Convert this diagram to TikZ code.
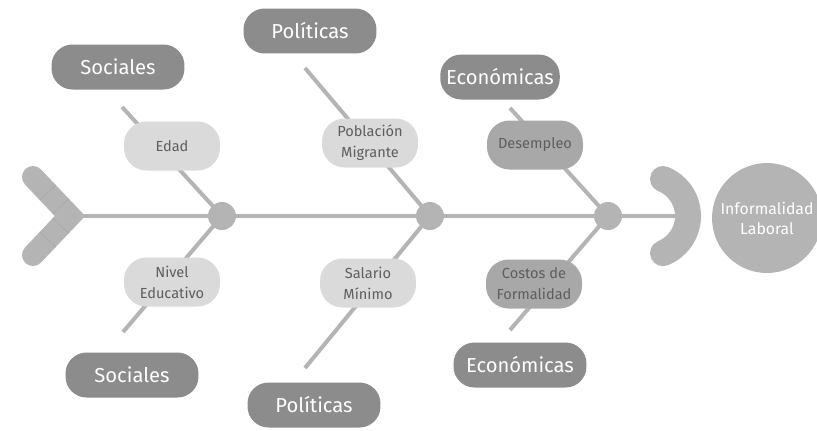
\documentclass[tikz,border=0pt]{standalone}
\usepackage{fontspec}
\setmainfont{Fira Sans}
\usepackage{tikz}
\usetikzlibrary{positioning, backgrounds}

\definecolor{bonegray}{HTML}{B4B4B4}
\definecolor{catgray}{HTML}{8C8C8C}
\definecolor{lightfill}{HTML}{DADADA}
\definecolor{midfill}{HTML}{A8A8A8}
\definecolor{causetext}{HTML}{5E5E5E}
\definecolor{seamgray}{HTML}{A6A6A6}

\begin{document}
\begin{tikzpicture}[
        x=0.02cm, y=-0.02cm,
        bone/.style={draw=bonegray, line width=0.08cm},
        category/.style={fill=catgray, rounded corners=0.42cm, minimum width=2.66cm, minimum height=0.9cm, text=white, font=\fontsize{11.5}{14}\selectfont},
        cause/.style={fill=#1, rounded corners=0.45cm, minimum width=1.92cm, minimum height=0.98cm, align=center, text=causetext, font=\fontsize{8.3}{12}\selectfont},
        cause/.default=lightfill,
        joint/.style={circle, fill=bonegray, minimum size=0.56cm, inner sep=0pt},
        outcome/.style={circle, fill=bonegray, minimum size=2.2cm, inner sep=0pt, align=center, text=white, font=\fontsize{9}{11.3}\selectfont}
    ]
        \useasboundingbox (0,0) rectangle (817,430);

        % spine
        \coordinate (tail) at (70,216);
        \coordinate (head) at (676,216);
        \node[joint] (j1) at (222,216) {};
        \node[joint] (j2) at (430,216) {};
        \node[joint] (j3) at (608,216) {};
        \node[outcome] (effect) at (767,218) {Informalidad\\Laboral};

        % categories
        \node[category] (soc1) at (118,67) {Sociales};
        \node[category] (pol1) at (310,31) {Políticas};
        \node[category, minimum width=2.3cm] (eco1) at (500,77) {Económicas};
        \node[category] (soc2) at (132,375) {Sociales};
        \node[category] (pol2) at (314,405) {Políticas};
        \node[category] (eco2) at (520,365) {Económicas};

        % causes
        \node[cause] (edad) at (172,146) {Edad};
        \node[cause] (nivel) at (172,282) {Nivel\\Educativo};
        \node[cause] (pobl) at (370,143) {Población\\Migrante};
        \node[cause] (salario) at (368,283) {Salario\\Mínimo};
        \node[cause=midfill] (desemp) at (535,145) {Desempleo};
        \node[cause=midfill] (costos) at (534,284) {Costos de\\Formalidad};

        % bone ends
        \coordinate (b1) at (122,107);
        \coordinate (b2) at (123,332);
        \coordinate (b3) at (305,68);
        \coordinate (b4) at (305,368);
        \coordinate (b5) at (510,108);
        \coordinate (b6) at (510,330);

        \begin{scope}[on background layer]
            \draw[bone] (tail) -- (head);
            \draw[bone] (j1.center) -- (b1);
            \draw[bone] (j1.center) -- (b2);
            \draw[bone] (j2.center) -- (b3);
            \draw[bone] (j2.center) -- (b4);
            \draw[bone] (j3.center) -- (b5);
            \draw[bone] (j3.center) -- (b6);
            % head
            \draw[bonegray, line width=0.52cm, line cap=round] (663,179) arc[start angle=68, end angle=-68, radius=0.8cm];
            % tail
            \draw[bonegray, line width=0.44cm, line cap=round, line join=miter] (33,177) -- (tail) -- (33,255);
            \draw[seamgray, line width=0.3pt] (55.8,185) -- (39.8,200.2) (68.8,198.7) -- (52.8,213.9)
                (55.8,247) -- (39.8,231.8) (68.8,233.3) -- (52.8,218.1);
        \end{scope}
    \end{tikzpicture}
\end{document}
